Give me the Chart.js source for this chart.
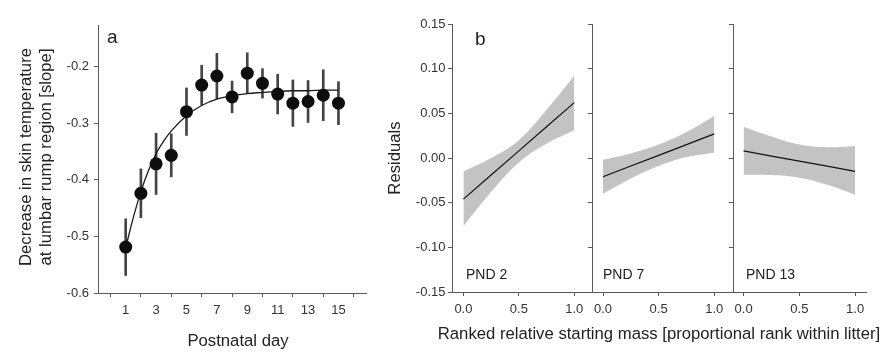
<!DOCTYPE html>
<html>
<head>
<meta charset="utf-8">
<script src="https://cdn.jsdelivr.net/npm/chart.js@4.4.0/dist/chart.umd.min.js"></script>
<style>
  html, body { margin: 0; padding: 0; background: #fff; }
  #wrap { position: relative; width: 888px; height: 358px; }
  #wrap canvas { position: absolute; left: 0; top: 0; }
</style>
</head>
<body>
<div id="wrap">
  <canvas id="chartA" width="888" height="358"></canvas>
  <canvas id="chartB1" width="888" height="358"></canvas>
  <canvas id="chartB2" width="888" height="358"></canvas>
  <canvas id="chartB3" width="888" height="358"></canvas>
</div>
<script>
// ---- panel a data ----
const days = [1, 2, 3, 4, 5, 6, 7, 8, 9, 10, 11, 12, 13, 14, 15];
const meanDecrease = [-0.519, -0.424, -0.372, -0.357, -0.280, -0.233, -0.217, -0.254, -0.212, -0.230, -0.249, -0.265, -0.262, -0.251, -0.265];
const errDecrease = [0.050, 0.043, 0.054, 0.038, 0.042, 0.035, 0.040, 0.028, 0.036, 0.026, 0.035, 0.041, 0.037, 0.045, 0.038];
const fitDays = [1, 1.5, 2, 2.5, 3, 3.5, 4, 5, 6, 7, 8, 9, 10, 11, 12, 13, 14, 15];
const fitDecrease = [-0.520, -0.467, -0.421, -0.384, -0.354, -0.332, -0.314, -0.287, -0.269, -0.258, -0.252, -0.248, -0.246, -0.244, -0.243, -0.243, -0.242, -0.242];
const dayTicks = [1, 3, 5, 7, 9, 11, 13, 15];
const decreaseTicks = [-0.6, -0.5, -0.4, -0.3, -0.2];

// ---- panel b data ----
const rankX = [0, 0.25, 0.5, 0.75, 1];
const pnd2Fit = [-0.046, -0.019, 0.008, 0.035, 0.062];
const pnd2Upper = [-0.015, 0.000, 0.020, 0.054, 0.092];
const pnd2Lower = [-0.076, -0.038, -0.005, 0.016, 0.031];
const pnd7Fit = [-0.021, -0.009, 0.003, 0.015, 0.027];
const pnd7Upper = [-0.002, 0.005, 0.015, 0.029, 0.047];
const pnd7Lower = [-0.040, -0.023, -0.009, 0.001, 0.006];
const pnd13Fit = [0.008, 0.002, -0.0035, -0.009, -0.015];
const pnd13Upper = [0.035, 0.024, 0.015, 0.012, 0.0135];
const pnd13Lower = [-0.0187, -0.019, -0.022, -0.030, -0.041];
const residTicks = [-0.15, -0.10, -0.05, 0.00, 0.05, 0.10, 0.15];
const rankTicks = [0, 0.5, 1];

const FONT = '"Liberation Sans", Arial, sans-serif';
const axisColor = '#5a5a5a';
const tickColor = '#333';

const freeText = {
  id: 'freeText',
  afterDraw(chart, args, opts) {
    const ctx = chart.ctx;
    (opts.items || []).forEach(t => {
      ctx.save();
      ctx.fillStyle = t.color || '#222';
      ctx.font = t.size + 'px ' + FONT;
      ctx.textAlign = t.align || 'center';
      ctx.textBaseline = t.base || 'alphabetic';
      ctx.translate(t.x, t.y);
      if (t.rot) ctx.rotate(-Math.PI / 2);
      ctx.fillText(t.text, 0, 0);
      ctx.restore();
    });
  }
};

function axis(min, max, tickVals, digits, size, pad, showLabels) {
  return {
    type: 'linear',
    min: min,
    max: max,
    afterBuildTicks: s => { s.ticks = tickVals.map(v => ({ value: v })); },
    afterFit: s => { if (s.isHorizontal()) s.height = size; else s.width = size; },
    grid: { drawOnChartArea: false, drawTicks: true, tickLength: 4, color: axisColor, lineWidth: 1 },
    border: { display: true, color: axisColor, width: 1 },
    ticks: {
      display: showLabels,
      padding: pad,
      color: tickColor,
      autoSkip: false,
      maxRotation: 0,
      font: { family: FONT, size: 13 },
      callback: v => Number(v).toFixed(digits)
    }
  };
}

// ---- panel a ----
new Chart(document.getElementById('chartA'), {
  type: 'scatter',
  data: {
    datasets: [
      {
        type: 'scatter',
        data: days.map((d, i) => ({ x: d, y: meanDecrease[i] })),
        pointRadius: 6.5,
        backgroundColor: '#0d0d0d',
        borderWidth: 0,
        order: 0
      },
      {
        type: 'line',
        data: fitDays.map((d, i) => ({ x: d, y: fitDecrease[i] })),
        borderColor: '#1a1a1a',
        borderWidth: 1.3,
        pointRadius: 0,
        cubicInterpolationMode: 'monotone',
        fill: false,
        order: 1
      },
      {
        type: 'bar',
        data: days.map((d, i) => ({ x: d, y: [meanDecrease[i] - errDecrease[i], meanDecrease[i] + errDecrease[i]] })),
        backgroundColor: '#444',
        borderWidth: 0,
        barThickness: 2,
        order: 2
      }
    ]
  },
  options: {
    responsive: false,
    animation: false,
    events: [],
    layout: { padding: { left: 0, right: 522, top: 25, bottom: 0 } },
    scales: {
      x: axis(0.28, 15.71, dayTicks, 0, 65, 6, true),
      y: axis(-0.6, -0.127, decreaseTicks, 1, 98, 5, true)
    },
    plugins: {
      legend: { display: false },
      tooltip: { enabled: false },
      freeText: {
        items: [
          { text: 'a', x: 107, y: 43, size: 19, align: 'left' },
          { text: 'Decrease in skin temperature', x: 26, y: 157, size: 16.7, rot: true, base: 'middle' },
          { text: 'at lumbar rump region [slope]', x: 46, y: 157, size: 16.7, rot: true, base: 'middle' },
          { text: 'Postnatal day', x: 238, y: 346, size: 16.7 }
        ]
      }
    }
  },
  plugins: [freeText]
});

// ---- panel b ----
function residPanel(id, fit, upper, lower, xMin, xMax, axisLeft, axisRight, showY, texts) {
  const pts = arr => rankX.map((r, i) => ({ x: r, y: arr[i] }));
  new Chart(document.getElementById(id), {
    type: 'line',
    data: {
      datasets: [
        {
          data: pts(fit),
          borderColor: '#111',
          borderWidth: 1.2,
          pointRadius: 0,
          fill: false
        },
        {
          data: pts(upper),
          borderColor: 'rgba(0,0,0,0)',
          borderWidth: 0,
          pointRadius: 0,
          tension: 0.4,
          backgroundColor: '#c3c3c3',
          fill: '+1'
        },
        {
          data: pts(lower),
          borderColor: 'rgba(0,0,0,0)',
          borderWidth: 0,
          pointRadius: 0,
          tension: 0.4,
          fill: false
        }
      ]
    },
    options: {
      responsive: false,
      animation: false,
      events: [],
      layout: { padding: { left: 0, right: 888 - axisRight, top: 24, bottom: 0 } },
      scales: {
        x: axis(xMin, xMax, rankTicks, 1, 66, 6, true),
        y: axis(-0.15, 0.15, residTicks, 2, axisLeft, 2.5, showY)
      },
      plugins: {
        legend: { display: false },
        tooltip: { enabled: false },
        freeText: { items: texts }
      }
    },
    plugins: [freeText]
  });
}

residPanel('chartB1', pnd2Fit, pnd2Upper, pnd2Lower, -0.103, 1.16, 452, 592, true, [
  { text: 'b', x: 475, y: 44.5, size: 19, align: 'left' },
  { text: 'Residuals', x: 395, y: 158, size: 16.7, rot: true, base: 'middle' },
  { text: 'PND 2', x: 466, y: 278.5, size: 14, align: 'left' },
  { text: 'Ranked relative starting mass [proportional rank within litter]', x: 659, y: 339, size: 16.7 }
]);
residPanel('chartB2', pnd7Fit, pnd7Upper, pnd7Lower, -0.099, 1.168, 592, 733, false, [
  { text: 'PND 7', x: 603, y: 278.5, size: 14, align: 'left' }
]);
residPanel('chartB3', pnd13Fit, pnd13Upper, pnd13Lower, -0.095, 1.098, 733, 866, false, [
  { text: 'PND 13', x: 746, y: 278.5, size: 14, align: 'left' }
]);
</script>
</body>
</html>
